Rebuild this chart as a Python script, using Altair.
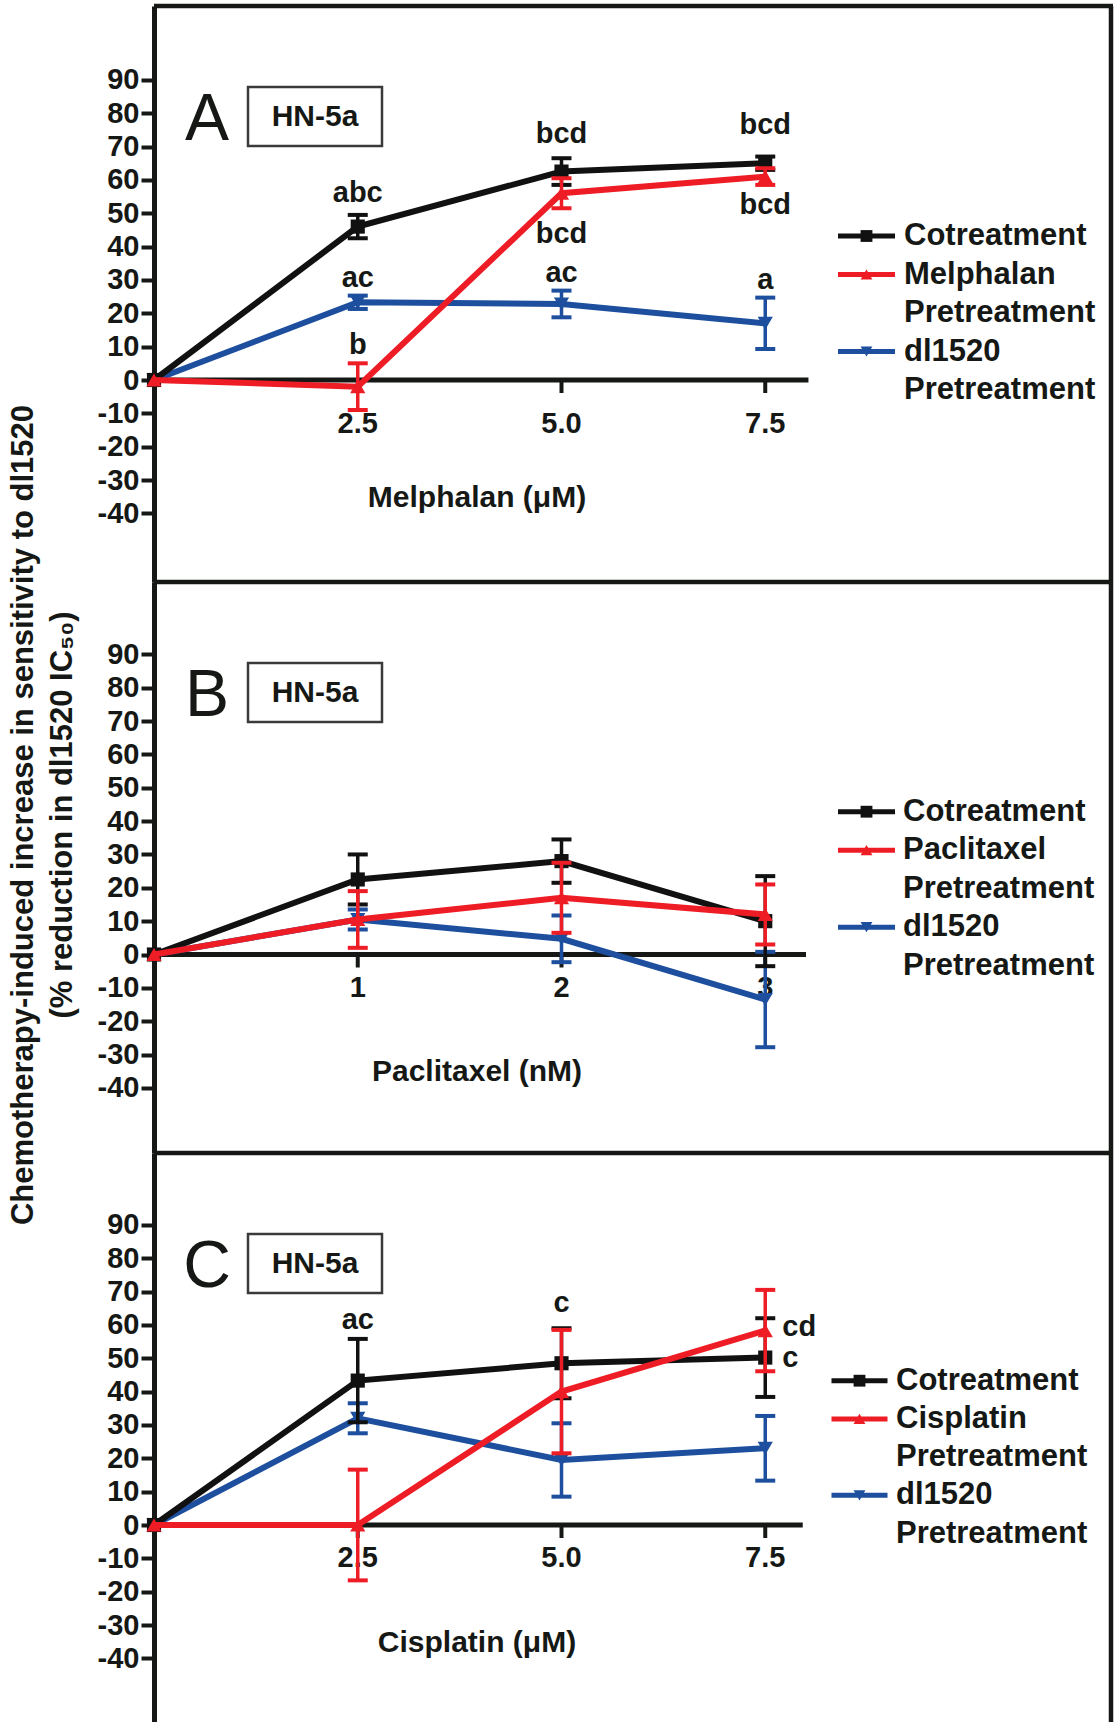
import altair as alt
import pandas as pd

# ---------------- data ----------------
SERIES = ["Cotreatment", "Drug Pretreatment", "dl1520 Pretreatment"]
Y_TICKS = [-40, -30, -20, -10, 0, 10, 20, 30, 40, 50, 60, 70, 80, 90]

# Panel A : Melphalan
A_X = [0, 2.5, 5.0, 7.5]
A_COT = [0, 46.0, 62.5, 65.0]
A_COT_ERR = [0, 3.5, 4.0, 2.0]
A_PRE = [0, -2.0, 56.0, 61.0]
A_PRE_ERR = [0, 7.0, 4.5, 2.5]
A_DL = [0, 23.3, 22.8, 17.0]
A_DL_ERR = [0, 2.0, 4.0, 7.7]
A_TICKS = [2.5, 5.0, 7.5]
A_TICK_LABELS = ["2.5", "5.0", "7.5"]
A_NOTE_TEXT = ["abc", "ac", "b", "bcd", "bcd", "ac", "bcd", "bcd", "a"]
A_NOTE_X = [2.5, 2.5, 2.5, 5.0, 5.0, 5.0, 7.5, 7.5, 7.5]
A_NOTE_Y = [56.0, 30.7, 10.5, 73.7, 43.8, 32.2, 76.5, 52.5, 30.0]

# Panel B : Paclitaxel
B_X = [0, 1, 2, 3]
B_COT = [0, 22.5, 28.0, 10.0]
B_COT_ERR = [0, 7.5, 6.5, 13.5]
B_PRE = [0, 10.5, 17.0, 12.0]
B_PRE_ERR = [0, 8.5, 10.5, 9.0]
B_DL = [0, 10.5, 4.7, -13.5]
B_DL_ERR = [0, 3.0, 7.0, 14.3]
B_TICKS = [1, 2, 3]
B_TICK_LABELS = ["1", "2", "3"]

# Panel C : Cisplatin
C_X = [0, 2.5, 5.0, 7.5]
C_COT = [0, 43.3, 48.5, 50.2]
C_COT_ERR = [0, 12.5, 10.5, 11.8]
C_PRE = [0, 0.0, 40.0, 58.3]
C_PRE_ERR = [0, 16.6, 18.5, 12.2]
C_DL = [0, 32.0, 19.5, 23.0]
C_DL_ERR = [0, 4.5, 11.0, 9.7]
C_TICKS = [2.5, 5.0, 7.5]
C_TICK_LABELS = ["2.5", "5.0", "7.5"]
C_NOTE_TEXT = ["ac", "c"]
C_NOTE_X = [2.5, 5.0]
C_NOTE_Y = [61.5, 66.5]
C_SIDE_TEXT = ["cd", "c"]
C_SIDE_X = [7.5, 7.5]
C_SIDE_Y = [59.5, 50.0]

# ---------------- styles ----------------
FONT = "Liberation Sans, Arial, Helvetica, sans-serif"
INK = "#151815"
BLACK = "#111111"
RED = "#ee1c25"
BLUE = "#1d4f9e"
PPU = 3.335          # pixels per y unit
W = 957              # panel plot width


def panel(cfg):
    H, z, xmax = cfg["H"], cfg["zero"], cfg["xmax"]
    xs = alt.Scale(domain=[0, xmax], nice=False, zero=False)
    ys = alt.Scale(domain=[-(H - z) / PPU, z / PPU], nice=False, zero=False)
    yaxis = alt.Axis(values=Y_TICKS, title=None, grid=False, domainWidth=5,
                     domainColor=INK, tickSize=13, tickWidth=4, tickColor=INK,
                     labelFont=FONT, labelFontSize=29, labelFontWeight="bold",
                     labelColor=INK, labelPadding=2, labelOverlap=False,
                     labelExpr="'' + datum.value")

    def X(f):
        return alt.X(f, type="quantitative", scale=xs, axis=None)

    def Y(f):
        return alt.Y(f, type="quantitative", scale=ys, axis=yaxis)

    one = pd.DataFrame({"k": [0]})
    layers = []
    # frame
    layers.append(alt.Chart(one).mark_rule(color=INK, strokeWidth=4.5).encode(
        x=alt.value(0), x2=alt.value(W + 2), y=alt.value(0)))
    layers.append(alt.Chart(one).mark_rule(color=INK, strokeWidth=4.5).encode(
        x=alt.value(W), y=alt.value(0), y2=alt.value(H)))
    if cfg.get("anchor"):
        layers.append(alt.Chart(one).mark_rule(opacity=0, strokeWidth=1).encode(
            x=alt.value(-154), x2=alt.value(-150), y=alt.value(-6)))

    # x axis along y = 0
    ax = pd.DataFrame({"x0": [0], "x1": [cfg["xend"]], "y": [0]})
    layers.append(alt.Chart(ax).mark_rule(color=INK, strokeWidth=5).encode(
        x=X("x0"), x2="x1", y=Y("y")))
    tk = pd.DataFrame({"t": cfg["ticks"], "lab": cfg["tick_labels"],
                       "y0": [0] * len(cfg["ticks"]),
                       "y1": [-13 / PPU] * len(cfg["ticks"])})
    layers.append(alt.Chart(tk).mark_rule(color=INK, strokeWidth=4).encode(
        x=X("t"), y=Y("y0"), y2="y1"))
    layers.append(alt.Chart(tk).mark_text(font=FONT, fontSize=29, fontWeight="bold",
                                          color=INK, baseline="middle", align="center").encode(
        x=X("t"), y=alt.value(z + cfg["tick_off"]), text="lab:N"))
    layers.append(alt.Chart(one).mark_text(font=FONT, fontSize=30, fontWeight="bold",
                                           color=INK, baseline="middle", align="center").encode(
        x=alt.value(323), y=alt.value(z + cfg["title_off"]), text=alt.value(cfg["xtitle"])))

    # series: blue, black, red (drawing order)
    for xs_vals, ys_vals, errs, color, shape, size in cfg["series"]:
        df = pd.DataFrame({"x": xs_vals, "y": ys_vals, "e": errs})
        df["lo"] = df["y"] - df["e"]
        df["hi"] = df["y"] + df["e"]
        eb = df[df["e"] > 0]
        layers.append(alt.Chart(eb).mark_rule(color=color, strokeWidth=3.5).encode(
            x=X("x"), y=Y("lo"), y2="hi"))
        for col in ["lo", "hi"]:
            layers.append(alt.Chart(eb).mark_rule(color=color, strokeWidth=4,
                                                  xOffset=-10, x2Offset=10).encode(
                x=X("x"), x2="x", y=Y(col)))
        layers.append(alt.Chart(df).mark_line(color=color, strokeWidth=6).encode(
            x=X("x"), y=Y("y")))
        layers.append(alt.Chart(df).mark_point(shape=shape, filled=True, color=color,
                                               size=size, opacity=1).encode(
            x=X("x"), y=Y("y")))

    # letter annotations
    if cfg.get("notes"):
        t, xv, yv = cfg["notes"]
        nd = pd.DataFrame({"t": t, "x": xv, "y": yv})
        layers.append(alt.Chart(nd).mark_text(font=FONT, fontSize=29, fontWeight="bold",
                                              color=INK, align="center", baseline="middle").encode(
            x=X("x"), y=Y("y"), text="t:N"))
    if cfg.get("side_notes"):
        t, xv, yv = cfg["side_notes"]
        nd = pd.DataFrame({"t": t, "x": xv, "y": yv})
        layers.append(alt.Chart(nd).mark_text(font=FONT, fontSize=29, fontWeight="bold",
                                              color=INK, align="left", baseline="middle",
                                              dx=17).encode(
            x=X("x"), y=Y("y"), text="t:N"))

    # panel letter and cell-line box
    layers.append(alt.Chart(one).mark_text(font=FONT, fontSize=66, color=INK,
                                           align="center", baseline="middle").encode(
        x=alt.value(53), y=alt.value(114), text=alt.value(cfg["letter"])))
    layers.append(alt.Chart(one).mark_rect(fill="white", stroke="#3a3a3a", strokeWidth=2.5).encode(
        x=alt.value(94), x2=alt.value(228), y=alt.value(81), y2=alt.value(140)))
    layers.append(alt.Chart(one).mark_text(font=FONT, fontSize=30, fontWeight="bold", color=INK,
                                           align="center", baseline="middle").encode(
        x=alt.value(161), y=alt.value(111), text=alt.value("HN-5a")))

    # legend
    lx, sx1, sx2, ly0, step = cfg["legend"]
    entries = [(["Cotreatment"], BLACK, "square"),
               ([cfg["drug"], "Pretreatment"], RED, "triangle-up"),
               (["dl1520", "Pretreatment"], BLUE, "triangle-down")]
    row = 0
    for lines, color, shape in entries:
        yy = ly0 + row * step
        layers.append(alt.Chart(one).mark_rule(color=color, strokeWidth=5).encode(
            x=alt.value(sx1), x2=alt.value(sx2), y=alt.value(yy)))
        layers.append(alt.Chart(one).mark_point(shape=shape, filled=True, color=color,
                                                size=140, opacity=1).encode(
            x=alt.value((sx1 + sx2) / 2), y=alt.value(yy)))
        for i, ln in enumerate(lines):
            layers.append(alt.Chart(one).mark_text(font=FONT, fontSize=31, fontWeight="bold",
                                                   color=INK, align="left", baseline="middle").encode(
                x=alt.value(lx), y=alt.value(ly0 + (row + i) * step), text=alt.value(ln)))
        row += len(lines)

    # shared y title (placed in the middle panel)
    if cfg.get("ytitle"):
        layers.append(alt.Chart(one).mark_text(font=FONT, fontSize=31, fontWeight="bold",
                                               color=INK, angle=270, align="center",
                                               baseline="middle").encode(
            x=alt.value(-130), y=alt.value(233),
            text=alt.value("Chemotherapy-induced increase in sensitivity to dl1520")))
        layers.append(alt.Chart(one).mark_text(font=FONT, fontSize=31, fontWeight="bold",
                                               color=INK, angle=270, align="center",
                                               baseline="middle").encode(
            x=alt.value(-91), y=alt.value(233),
            text=alt.value("(% reduction in dl1520 IC\u2085\u2080)")))

    return alt.layer(*layers).properties(width=W, height=H)


def sers(xv, cot, cote, pre, pree, dl, dle):
    return [(xv, dl, dle, BLUE, "triangle-down", 230),
            (xv, cot, cote, BLACK, "square", 200),
            (xv, pre, pree, RED, "triangle-up", 230)]


pA = panel(dict(H=576, zero=374, xmax=W / 81.5, xend=8.03, anchor=True,
                ticks=A_TICKS, tick_labels=A_TICK_LABELS, tick_off=44, title_off=118,
                xtitle="Melphalan (\u03bcM)", letter="A", drug="Melphalan",
                series=sers(A_X, A_COT, A_COT_ERR, A_PRE, A_PRE_ERR, A_DL, A_DL_ERR),
                notes=(A_NOTE_TEXT, A_NOTE_X, A_NOTE_Y),
                legend=(750, 684, 741, 230, 38.5)))
pB = panel(dict(H=571, zero=372.5, xmax=W / 203.75, xend=3.2,
                ticks=B_TICKS, tick_labels=B_TICK_LABELS, tick_off=33, title_off=117,
                xtitle="Paclitaxel (nM)", letter="B", drug="Paclitaxel",
                series=sers(B_X, B_COT, B_COT_ERR, B_PRE, B_PRE_ERR, B_DL, B_DL_ERR),
                legend=(749, 684, 741, 229.7, 38.5), ytitle=True))
pC = panel(dict(H=569, zero=372, xmax=W / 81.5, xend=7.96,
                ticks=C_TICKS, tick_labels=C_TICK_LABELS, tick_off=33, title_off=118,
                xtitle="Cisplatin (\u03bcM)", letter="C", drug="Cisplatin",
                series=sers(C_X, C_COT, C_COT_ERR, C_PRE, C_PRE_ERR, C_DL, C_DL_ERR),
                notes=(C_NOTE_TEXT, C_NOTE_X, C_NOTE_Y),
                side_notes=(C_SIDE_TEXT, C_SIDE_X, C_SIDE_Y),
                legend=(742, 677.5, 733.5, 227.7, 38.2)))

chart = alt.vconcat(pA, pB, pC, spacing=0, bounds="flush").properties(
    padding=0, background="white"
).configure_view(stroke=None)

chart.save("out.html", embed_options={"renderer": "svg", "actions": False})
